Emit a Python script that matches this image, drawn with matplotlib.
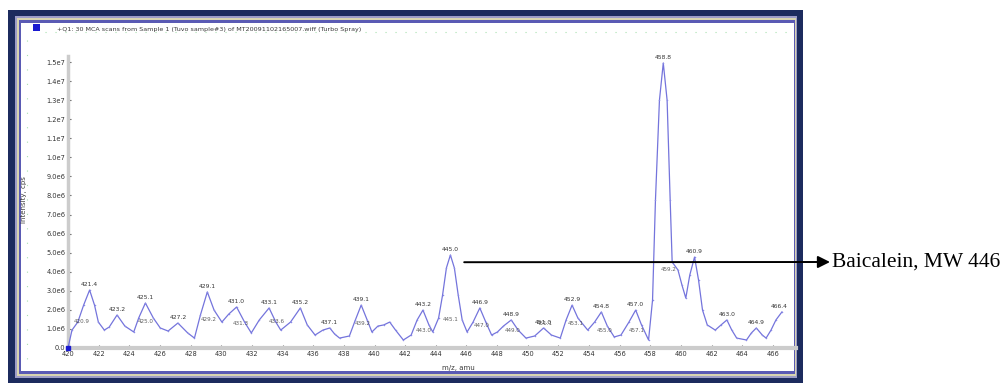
import matplotlib
matplotlib.use('Agg')
import matplotlib.pyplot as plt
from matplotlib.patches import Rectangle
from matplotlib.lines import Line2D

W, H = 1003, 384

# profile trace (m/z, intensity in 1e6 cps)
mz = [420.00, 420.26, 420.64, 421.02, 421.41, 421.73, 421.98, 422.37, 422.69, 423.20,
      423.71, 424.29, 424.61, 425.05, 425.57, 426.02, 426.53, 427.17, 427.81, 428.25,
      428.64, 429.09, 429.53, 430.04, 430.49, 431.00, 431.52, 431.96, 432.48, 433.12,
      433.56, 433.88, 434.52, 435.16, 435.61, 436.12, 436.63, 437.08, 437.40, 437.72,
      438.36, 438.75, 439.13, 439.52, 439.83, 440.22, 440.60, 440.99, 441.37, 441.88,
      442.39, 442.78, 443.16, 443.55, 443.80, 444.18, 444.44, 444.69, 444.95, 445.21,
      445.46, 445.72, 446.04, 446.43, 446.87, 447.26, 447.64, 448.02, 448.41, 448.92,
      449.37, 449.88, 450.45, 451.03, 451.54, 452.12, 452.50, 452.89, 453.27, 453.91,
      454.36, 454.80, 455.19, 455.64, 456.08, 456.60, 457.04, 457.42, 457.88, 458.14,
      458.33, 458.59, 458.84, 459.09, 459.29, 459.42, 459.80, 460.06, 460.31, 460.57,
      460.88, 461.14, 461.40, 461.71, 462.23, 462.61, 462.99, 463.31, 463.63, 464.27,
      464.59, 464.91, 465.30, 465.55, 465.87, 466.19, 466.58]
intensity = [0.00, 0.94, 1.36, 2.25, 3.04, 2.25, 1.36, 0.94, 1.10, 1.73,
             1.15, 0.84, 1.57, 2.36, 1.57, 1.05, 0.89, 1.31, 0.79, 0.52,
             1.73, 2.94, 1.99, 1.36, 1.78, 2.15, 1.36, 0.79, 1.47, 2.10,
             1.36, 0.94, 1.36, 2.10, 1.21, 0.68, 0.94, 1.05, 0.73, 0.52,
             0.63, 1.47, 2.25, 1.47, 0.84, 1.15, 1.21, 1.36, 0.94, 0.42,
             0.68, 1.47, 1.99, 1.21, 0.84, 1.57, 2.78, 4.20, 4.88, 4.20,
             2.78, 1.47, 0.84, 1.36, 2.10, 1.36, 0.68, 0.84, 1.15, 1.47,
             0.94, 0.52, 0.63, 1.05, 0.68, 0.52, 1.47, 2.25, 1.57, 0.94,
             1.36, 1.89, 1.15, 0.58, 0.68, 1.36, 1.99, 1.21, 0.42, 2.52,
             7.76, 13.0, 14.95, 13.0, 7.76, 4.51, 4.09, 3.30, 2.62, 3.83,
             4.77, 3.57, 1.99, 1.21, 0.94, 1.21, 1.47, 0.94, 0.52, 0.42,
             0.79, 1.05, 0.68, 0.52, 0.94, 1.47, 1.89]

# peak labels above the apexes
peak_mz = [421.41, 423.20, 425.05, 427.17, 429.09, 431.00, 433.12, 435.16, 437.08, 439.13,
           443.16, 444.95, 446.87, 448.92, 451.03, 452.89, 454.80, 457.04, 458.84, 460.88,
           462.99, 464.91, 466.40]
peak_int = [3.04, 1.73, 2.36, 1.31, 2.94, 2.15, 2.10, 2.10, 1.05, 2.25,
            1.99, 4.88, 2.10, 1.47, 1.05, 2.25, 1.89, 1.99, 14.95, 4.77,
            1.47, 1.05, 1.89]
peak_txt = ["421.4", "423.2", "425.1", "427.2", "429.1", "431.0", "433.1", "435.2", "437.1", "439.1",
            "443.2", "445.0", "446.9", "448.9", "451.0", "452.9", "454.8", "457.0", "458.8", "460.9",
            "463.0", "464.9", "466.4"]

# smaller labels that sit on the trace
lo_mz = [420.90, 425.10, 429.20, 431.30, 433.60, 439.20, 443.20, 445.00, 447.00, 449.00,
         451.10, 453.10, 455.00, 457.10, 459.20]
lo_int = [1.40, 1.40, 1.50, 1.30, 1.40, 1.30, 0.90, 1.50, 1.20, 0.90,
          1.30, 1.30, 0.90, 0.90, 4.10]
lo_txt = ["420.9", "425.0", "429.2", "431.3", "433.6", "439.2", "443.0", "445.1", "447.0", "449.0",
          "451.1", "453.1", "455.0", "457.1", "459.2"]

yticks = list(range(0, 16))
ytick_labels = ["0.0", "1.0e6", "2.0e6", "3.0e6", "4.0e6", "5.0e6", "6.0e6", "7.0e6", "8.0e6",
                "9.0e6", "1.0e7", "1.1e7", "1.2e7", "1.3e7", "1.4e7", "1.5e7"]
xticks = list(range(420, 467, 2))

title_txt = "+Q1: 30 MCA scans from Sample 1 (Tuvo sample#3) of MT20091102165007.wiff (Turbo Spray)"
callout = "Baicalein, MW 446"
arrow_y = 4.5


def fx(x):
    return x / W


def fy(y):
    return 1 - y / H


fig = plt.figure(figsize=(W / 100, H / 100), dpi=100)


def box(x0, y0, x1, y1, color, z=-5):
    fig.add_artist(Rectangle((fx(x0), fy(y1)), (x1 - x0) / W, (y1 - y0) / H,
                             transform=fig.transFigure, facecolor=color,
                             edgecolor='none', zorder=z))


# window frame
box(8, 10, 803, 383, '#1c2b5e', -9)
box(15, 16, 797, 378, '#9c9cc8', -8)
box(17, 18, 796, 376, '#d8d4b0', -7)
box(19, 20, 795, 374, '#5a5ab4', -6)
box(21, 23, 794, 371, 'white', -5)
box(33, 24, 40, 31, '#1a1ad0', 2)

# faint window grid dots
fig.add_artist(Line2D([fx(45), fx(790)], [fy(32), fy(32)], transform=fig.transFigure,
                      color='#a8e0b0', lw=0.8, ls=(0, (1, 8)), zorder=-4))
fig.add_artist(Line2D([fx(27), fx(27)], [fy(40), fy(365)], transform=fig.transFigure,
                      color='#a8e0b0', lw=0.8, ls=(0, (1, 12)), zorder=-4))

fig.text(fx(57), fy(29), title_txt, size=4.6, color='#3a3a3a', va='center', ha='left')
fig.text(fx(24), fy(200), 'Intensity, cps', rotation=90, size=5, color='#3a3a3a',
         va='center', ha='center')
fig.text(fx(458), fy(368), 'm/z, amu', size=5, color='#3a3a3a', va='center', ha='center')

ax = fig.add_axes([fx(68), fy(348), (796 - 68) / W, (348 - 55) / H])
ax.patch.set_alpha(0)
ax.plot(mz, intensity, color='#7474dc', lw=0.9, marker='.', ms=2.2,
        mfc='#8a8ae6', mec='none', zorder=3)
ax.plot([mz[0]], [intensity[0]], marker='s', ms=3.5, color='#1a1ad0', zorder=4, clip_on=False)

for m, v, t in zip(peak_mz, peak_int, peak_txt):
    ax.annotate(t, (m, v), xytext=(0, 2), textcoords='offset points', ha='center',
                va='bottom', size=4.3, color='#333333', annotation_clip=False)
for m, v, t in zip(lo_mz, lo_int, lo_txt):
    ax.text(m, v, t, ha='center', va='center', size=4.1, color='#444444', alpha=0.85)

ax.set_xlim(420, 466.58)
ax.set_ylim(0, 15.37)
ax.set_yticks(yticks)
ax.set_yticklabels(ytick_labels)
ax.set_xticks(xticks)
ax.set_xticklabels([str(t) for t in xticks])
ax.set_xticks([t + 0.5 * k for t in xticks for k in (1, 2, 3)], minor=True)
ax.tick_params(axis='both', which='major', labelsize=4.8, labelcolor='#333333',
               color='#666666', length=2, width=0.8, direction='in', pad=2)
ax.tick_params(axis='x', which='minor', color='#777777', length=1.2, width=0.6, direction='in')
for s in ('top', 'right'):
    ax.spines[s].set_visible(False)
ax.spines['left'].set_color('#cccccc')
ax.spines['left'].set_linewidth(2.5)
ax.spines['left'].set_bounds(0, 15.3)
ax.spines['bottom'].set_color('#cccccc')
ax.spines['bottom'].set_linewidth(3)

# callout arrow to the baicalein peak
ax.annotate('', xy=(fx(830), fy(262)), xycoords='figure fraction',
            xytext=(peak_mz[11] + 0.9, arrow_y), textcoords='data',
            arrowprops=dict(arrowstyle='-|>', color='black', lw=1.4,
                            mutation_scale=18, shrinkA=0, shrinkB=0),
            annotation_clip=False, zorder=6)
fig.text(fx(832), fy(262), callout, va='center', ha='left',
         family='Liberation Serif', size=15.5, color='black')

fig.savefig('out.png', dpi=100)
